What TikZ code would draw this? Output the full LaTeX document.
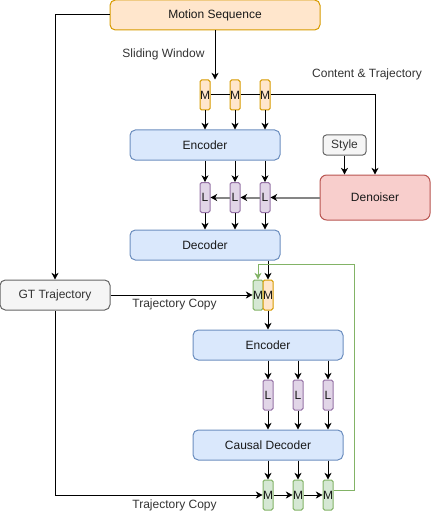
\documentclass[tikz,border=0pt]{standalone}
\usepackage{fontspec}
\setmainfont{Liberation Sans}
\usetikzlibrary{arrows.meta,calc}
\definecolor{orF}{HTML}{FFE6CC}\definecolor{orS}{HTML}{D79B00}
\definecolor{blF}{HTML}{DAE8FC}\definecolor{blS}{HTML}{6C8EBF}
\definecolor{puF}{HTML}{E1D5E7}\definecolor{puS}{HTML}{9673A6}
\definecolor{grF}{HTML}{D5E8D4}\definecolor{grS}{HTML}{82B366}
\definecolor{reF}{HTML}{F8CECC}\definecolor{reS}{HTML}{B85450}
\definecolor{gyF}{HTML}{F5F5F5}\definecolor{gyS}{HTML}{666666}
\definecolor{txt}{HTML}{333333}
\begin{document}
\begin{tikzpicture}[x=0.75pt,y=-0.75pt,
  base/.style={draw, line width=0.75pt, inner sep=0pt, font=\fontsize{9}{10.8}\selectfont, text=black!90},
  bigbox/.style={base, rounded corners=4pt, minimum width=112.5pt, minimum height=22.5pt, fill=blF, draw=blS},
  tok/.style={base, rounded corners=1.2pt, minimum width=7.5pt, minimum height=22.5pt},
  mtok/.style={tok, fill=orF, draw=orS},
  gtok/.style={tok, fill=grF, draw=grS},
  ltok/.style={tok, fill=puF, draw=puS},
  lbl/.style={font=\fontsize{9}{10.8}\selectfont, text=txt, inner sep=0pt},
  arr/.style={line width=0.75pt, -{Stealth[length=5pt,width=5.25pt,inset=1.5pt]}},
  ln/.style={line width=0.75pt},
  garr/.style={line width=1.5pt, draw=gyS!80, -{Stealth[length=5pt,width=5.25pt,inset=1.5pt,color=black]}},
  grarr/.style={line width=0.75pt, draw=grS, -{Stealth[length=5pt,width=5.25pt,inset=1.5pt]}}
]
\useasboundingbox (0,0) rectangle (432,531);

% top
\node[base, rounded corners=4pt, fill=orF, draw=orS, minimum width=157.5pt, minimum height=22.5pt] (ms) at (215,15) {Motion Sequence};
\node[mtok] (m1) at (205,95) {M};
\node[mtok] (m2) at (235,95) {M};
\node[mtok] (m3) at (265,95) {M};
\node[bigbox] (enc1) at (205,145) {Encoder};
\node[ltok] (l1) at (205,197.5) {L};
\node[ltok] (l2) at (235,197.5) {L};
\node[ltok] (l3) at (265,197.5) {L};
\node[bigbox] (dec1) at (205,245) {Decoder};
\node[base, rounded corners=2.5pt, fill=gyF, draw=gyS, text=txt, minimum width=32.25pt, minimum height=15pt] (sty) at (344.5,145) {Style};
\node[base, rounded corners=5pt, fill=reF, draw=reS, minimum width=82.5pt, minimum height=33.75pt] (den) at (375,197.5) {Denoiser};

% middle
\node[base, rounded corners=4pt, fill=gyF, draw=gyS, text=txt, minimum width=82.5pt, minimum height=22.5pt] (gt) at (55,295) {GT Trajectory};
\node[gtok] (mg) at (258,295) {M};
\node[mtok] (mo) at (268,295) {M};
\node[bigbox] (enc2) at (268,345) {Encoder};
\node[ltok] (l4) at (268,395) {L};
\node[ltok] (l5) at (298,395) {L};
\node[ltok] (l6) at (328,395) {L};
\node[bigbox] (cdec) at (268,445) {Causal Decoder};
\node[gtok] (b1) at (268,495) {M};
\node[gtok] (b2) at (298,495) {M};
\node[gtok] (b3) at (328,495) {M};

% labels
\node[lbl] (swl) at (163.5,54) {Sliding Window};
\node[lbl] (ctl) at (367,74) {Content \& Trajectory};
\node[lbl] (tc1) at (174.5,304) {Trajectory Copy};
\node[lbl] (tc2) at (174.5,505) {Trajectory Copy};

% connectors top
\draw[arr] (ms.west) -| (gt.north);
\draw[arr] (ms.south) -- (ms.south |- m1.north);
\draw[ln] (m1.east) -- (m2.west);
\draw[ln] (m2.east) -- (m3.west);
\draw[arr] (m3.east) -| (den.north);
\foreach \m in {m1,m2,m3}{\draw[arr] (\m.south) -- (\m.south |- enc1.north);}
\foreach \l in {l1,l2,l3}{
  \draw[arr] (\l.north |- enc1.south) -- (\l.north);
  \draw[arr] (\l.south) -- (\l.south |- dec1.north);}
\draw[arr] (sty.south) -- (sty.south |- den.north);
\draw[garr] (den.west |- l3.east) -- (l3.east);
\draw[garr] (l3.west) -- (l2.east);
\draw[garr] (l2.west) -- (l1.east);

% connectors middle/bottom
\draw[arr] (mo.north |- dec1.south) -- (mo.north);
\draw[arr] (gt.east) -- (mg.west);
\draw[arr] (gt.south) |- (b1.west);
\draw[arr] (mo.south) -- (enc2.north);
\foreach \l in {l4,l5,l6}{
  \draw[arr] (\l.north |- enc2.south) -- (\l.north);
  \draw[arr] (\l.south) -- (\l.south |- cdec.north);
  \draw[arr] (\l.south |- cdec.south) -- (\l.south |- b1.north);}
\draw[arr] (b1.east) -- (b2.west);
\draw[arr] (b2.east) -- (b3.west);
\draw[grarr] ($(b3.east)+(0,-5)$) -- ++(21,0) |- ($(mg.north)+(0,-15)$) -- (mg.north);
\end{tikzpicture}
\end{document}
